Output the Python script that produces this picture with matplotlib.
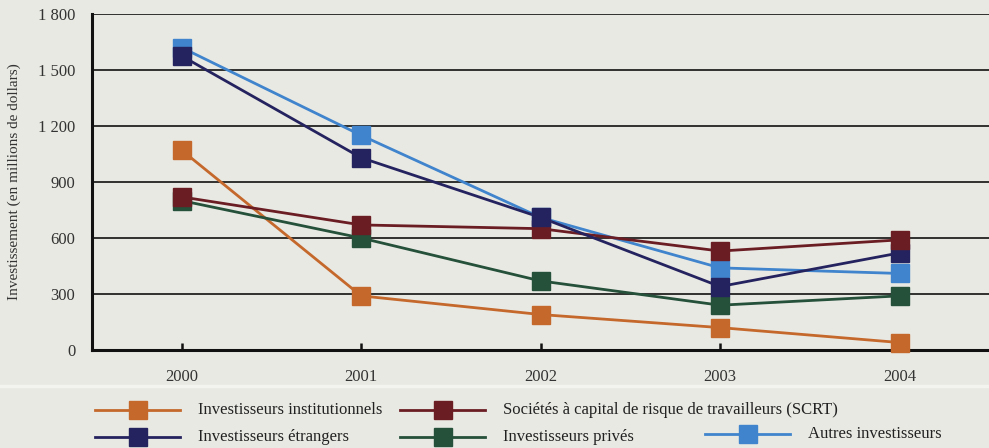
import matplotlib
matplotlib.use("Agg")
import matplotlib.pyplot as plt
from matplotlib.lines import Line2D

# Investment by investor type, 2000-2004 (millions of dollars)
years = [2000, 2001, 2002, 2003, 2004]
institutionnels = [1070, 290, 190, 120, 40]
scrt = [820, 670, 650, 530, 590]
etrangers = [1575, 1030, 710, 340, 520]
prives = [800, 600, 370, 240, 290]
autres = [1620, 1150, 710, 440, 410]

labels = [
    "Investisseurs institutionnels",
    "Sociétés à capital de risque de travailleurs (SCRT)",
    "Investisseurs étrangers",
    "Investisseurs privés",
    "Autres investisseurs",
]
yticks = [0, 300, 600, 900, 1200, 1500, 1800]
ytick_labels = ["0", "300", "600", "900", "1 200", "1 500", "1 800"]

colors = {
    "inst": "#c4682c",
    "scrt": "#6b1d24",
    "etr": "#25235f",
    "priv": "#25503a",
    "autres": "#3f84cc",
}
bg = "#e9e9e3"

plt.rcParams["font.family"] = ["Liberation Serif", "DejaVu Serif"]

fig = plt.figure(figsize=(9.89, 4.48), dpi=100, facecolor=bg)
W, H = 989, 448
# axes: left at 92 px, y=0 at 350 px, y=1800 at 14 px; extends past right edge
ax = fig.add_axes([92 / W, (H - 350) / H, (1000 - 92) / W, 336 / H])
ax.set_facecolor(bg)

# stacking order of the series (later ones on top)
series = [
    ("autres", autres),
    ("inst", institutionnels),
    ("priv", prives),
    ("scrt", scrt),
    ("etr", etrangers),
]
for i, (key, vals) in enumerate(series):
    ax.plot(years, vals, color=colors[key], lw=2.0, zorder=3 + i * 0.1,
            clip_on=False)
    for x, v in zip(years, vals):
        z = 4 + i * 0.1
        # SCRT marker sits above the foreign investors' one in the last year
        if key == "scrt" and x == 2004:
            z = 5
        ax.plot([x], [v], ls="none", marker="s", ms=12.5, mec=colors[key],
                mfc=colors[key], zorder=z, clip_on=False)

ax.set_xlim(1999.5, 2004.56)
ax.set_ylim(0, 1800)
ax.set_yticks(yticks)
ax.set_yticklabels(ytick_labels)
ax.set_xticks(years)
ax.set_xticklabels([str(y) for y in years])
ax.yaxis.grid(True, color="#222222", lw=1.3)
ax.set_axisbelow(True)
for s in ["top", "right"]:
    ax.spines[s].set_visible(False)
for s in ["left", "bottom"]:
    ax.spines[s].set_linewidth(2.2)
    ax.spines[s].set_color("#111111")
ax.tick_params(axis="y", length=0, pad=12, labelsize=12, labelcolor="#333333")
ax.tick_params(axis="x", direction="in", length=5, width=1.8, color="#111111",
               pad=14, labelsize=12, labelcolor="#333333")
ax.set_ylabel("Investissement (en millions de dollars)", fontsize=11,
              color="#333333", labelpad=12)

# faint separator above the legend
fig.add_artist(Line2D([0, 1], [1 - 386 / H, 1 - 386 / H], color="#f3f3ef",
                      lw=2.5, transform=fig.transFigure))

# legend entries laid out on a 3-column grid
legend_items = [
    ("inst", labels[0], 95, 410),
    ("scrt", labels[1], 400, 410),
    ("etr", labels[2], 95, 437),
    ("priv", labels[3], 400, 437),
    ("autres", labels[4], 705, 434),
]
for key, text, x0, yp in legend_items:
    yf = 1 - yp / H
    fig.add_artist(Line2D([x0 / W, (x0 + 85) / W], [yf, yf], color=colors[key],
                          lw=2.0, transform=fig.transFigure))
    fig.add_artist(Line2D([(x0 + 42.5) / W], [yf], color=colors[key], marker="s",
                          ms=12.5, transform=fig.transFigure))
    fig.text((x0 + 103) / W, yf, text, fontsize=12, color="#222222",
             va="center", ha="left")

fig.savefig("out.png", dpi=100, facecolor=bg)
